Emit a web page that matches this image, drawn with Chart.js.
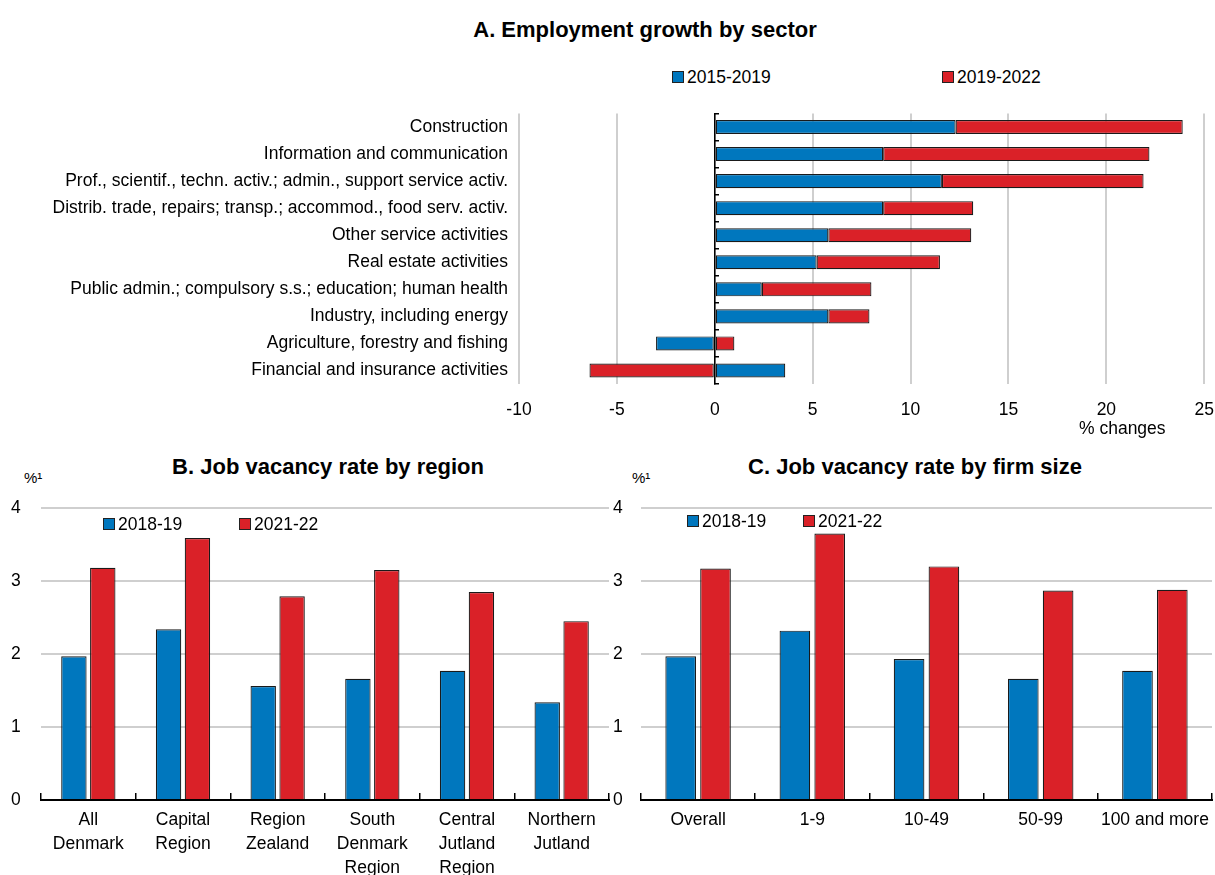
<!DOCTYPE html>
<html>
<head>
<meta charset="utf-8">
<script src="https://cdn.jsdelivr.net/npm/chart.js@4.4.1/dist/chart.umd.min.js"></script>
<style>
  html, body { margin: 0; padding: 0; background: #fff; }
  body { width: 1215px; height: 875px; position: relative; overflow: hidden;
         font-family: 'Liberation Sans', Arial, sans-serif; color: #000; }
  .abs { position: absolute; white-space: nowrap; z-index: 2; }
  .title { font-weight: bold; font-size: 22px; line-height: 26px; transform: translateX(-50%); }
  .leg { font-size: 17.5px; line-height: 20px; display: flex; align-items: center; }
  .box { display: inline-block; width: 10px; height: 10px; border: 1px solid #222; margin-right: 3px; }
  .unit { font-size: 15px; }
  .wrap { position: absolute; z-index: 1; }
</style>
</head>
<body>
<div class="wrap" style="left:0; top:100px; width:1215px; height:330px;"><canvas id="chartA"></canvas></div>
<div class="wrap" style="left:0; top:490px; width:612px; height:385px;"><canvas id="chartB"></canvas></div>
<div class="wrap" style="left:605px; top:490px; width:610px; height:385px;"><canvas id="chartC"></canvas></div>

<!-- Panel A -->
<div class="abs title" style="left:645px; top:17px;">A. Employment growth by sector</div>
<div class="abs leg" style="left:672px; top:67px;"><span class="box" style="background:#0077BE"></span>2015-2019</div>
<div class="abs leg" style="left:942px; top:67px;"><span class="box" style="background:#DA2128"></span>2019-2022</div>
<div class="abs" style="left:1079px; top:418px; font-size:17.5px;">% changes</div>

<!-- Panel B -->
<div class="abs title" style="left:328px; top:454px;">B. Job vacancy rate by region</div>
<div class="abs unit" style="left:24px; top:469px;">%¹</div>
<div class="abs leg" style="left:103px; top:514px;"><span class="box" style="background:#0077BE"></span>2018-19</div>
<div class="abs leg" style="left:239px; top:514px;"><span class="box" style="background:#DA2128"></span>2021-22</div>

<!-- Panel C -->
<div class="abs title" style="left:915px; top:454px;">C. Job vacancy rate by firm size</div>
<div class="abs unit" style="left:632px; top:469px;">%¹</div>
<div class="abs leg" style="left:687px; top:511px;"><span class="box" style="background:#0077BE"></span>2018-19</div>
<div class="abs leg" style="left:803px; top:511px;"><span class="box" style="background:#DA2128"></span>2021-22</div>

<script>
// ---------- Data ----------
const sectors = [
  "Construction",
  "Information and communication",
  "Prof., scientif., techn. activ.; admin., support service activ.",
  "Distrib. trade, repairs; transp.; accommod., food serv. activ.",
  "Other service activities",
  "Real estate activities",
  "Public admin.; compulsory s.s.; education; human health",
  "Industry, including energy",
  "Agriculture, forestry and fishing",
  "Financial and insurance activities"
];
const growth2015_2019 = [12.3, 8.6, 11.6, 8.6, 5.8, 5.2, 2.4, 5.8, -3.0, 3.6];
const growth2019_2022 = [11.6, 13.6, 10.3, 4.6, 7.3, 6.3, 5.6, 2.1, 1.0, -6.4];

const regions = [
  ["All", "Denmark"],
  ["Capital", "Region"],
  ["Region", "Zealand"],
  ["South", "Denmark", "Region"],
  ["Central", "Jutland", "Region"],
  ["Northern", "Jutland"]
];
const vacRegion2018_19 = [1.97, 2.34, 1.56, 1.66, 1.77, 1.34];
const vacRegion2021_22 = [3.18, 3.59, 2.79, 3.15, 2.85, 2.45];

const firmSizes = ["Overall", "1-9", "10-49", "50-99", "100 and more"];
const vacFirm2018_19 = [1.97, 2.32, 1.93, 1.66, 1.77];
const vacFirm2021_22 = [3.17, 3.65, 3.20, 2.87, 2.88];

const xTicksA = [-10, -5, 0, 5, 10, 15, 20, 25];
const yTicksBC = [0, 1, 2, 3, 4];

// ---------- Styles ----------
const BLUE = '#0077BE';
const RED = '#DA2128';
const EDGE = '#1a1a1a';
const GRID = '#cfcfcf';
const FONT = "'Liberation Sans', Arial, sans-serif";
const CLEAR = 'rgba(0,0,0,0)';

Chart.defaults.font.family = FONT;
Chart.defaults.color = '#000';
Chart.defaults.animation = false;
Chart.defaults.responsive = true;
Chart.defaults.maintainAspectRatio = false;
Chart.defaults.plugins.legend.display = false;
Chart.defaults.plugins.tooltip.enabled = false;

// ---------- Panel A ----------
new Chart(document.getElementById('chartA'), {
  type: 'bar',
  data: {
    labels: sectors,
    datasets: [
      { label: '2015-2019', data: growth2015_2019, backgroundColor: BLUE, borderColor: EDGE, borderWidth: 1.2, borderSkipped: false },
      { label: '2019-2022', data: growth2019_2022, backgroundColor: RED, borderColor: EDGE, borderWidth: 1.2, borderSkipped: false }
    ]
  },
  options: {
    indexAxis: 'y',
    layout: { padding: { top: 13, right: 0, left: 0, bottom: 0 } },
    datasets: { bar: { barPercentage: 0.52, categoryPercentage: 1.0 } },
    scales: {
      x: {
        type: 'linear', stacked: true, min: -10, max: 25,
        afterBuildTicks: (s) => { s.ticks = xTicksA.map(v => ({ value: v })); },
        grid: { color: GRID, lineWidth: 2, drawTicks: true, tickLength: 15, tickColor: CLEAR },
        border: { display: false },
        ticks: { font: { size: 17.5 }, padding: 1 },
        afterFit: (s) => { s.height = 46; }
      },
      y: {
        type: 'category', stacked: true,
        grid: { display: false },
        border: { display: false },
        ticks: { font: { size: 17.5 }, padding: 3, autoSkip: false },
        afterFit: (s) => { s.width = 519; }
      },
      y2: {
        type: 'category', axis: 'y', position: { x: 0 }, offset: true,
        grid: { offset: true, drawOnChartArea: false, drawTicks: true, tickLength: -5, color: '#000', lineWidth: 1.5 },
        border: { display: true, color: '#000', width: 1.5 },
        ticks: { display: false }
      }
    }
  }
});

// ---------- Panels B and C ----------
function vacancyChart(id, labels, d1, d2, padLeft, yWidth) {
  return new Chart(document.getElementById(id), {
    type: 'bar',
    data: {
      labels: labels,
      datasets: [
        { label: '2018-19', data: d1, backgroundColor: BLUE, borderColor: EDGE, borderWidth: 1.2, borderSkipped: 'bottom' },
        { label: '2021-22', data: d2, backgroundColor: RED, borderColor: EDGE, borderWidth: 1.2, borderSkipped: 'bottom' }
      ]
    },
    options: {
      layout: { padding: { top: 18, right: 3, left: padLeft, bottom: 0 } },
      datasets: { bar: { categoryPercentage: 0.61, barPercentage: 0.88 } },
      scales: {
        x: {
          grid: { offset: true, drawOnChartArea: false, drawTicks: true, tickLength: 8, tickColor: CLEAR },
          border: { display: true, color: '#000', width: 2 },
          ticks: { font: { size: 17.5, lineHeight: 1.38 }, padding: 0, autoSkip: false, maxRotation: 0 },
          afterFit: (s) => { s.height = 75; }
        },
        x2: {
          type: 'category', axis: 'x', position: { y: 0 }, offset: true,
          grid: { offset: true, drawOnChartArea: false, drawTicks: true, tickLength: -7, color: '#000', lineWidth: 1.5 },
          border: { display: false },
          ticks: { display: false }
        },
        y: {
          min: 0, max: 4,
          afterBuildTicks: (s) => { s.ticks = yTicksBC.map(v => ({ value: v })); },
          grid: { color: GRID, lineWidth: 2, drawTicks: false },
          border: { display: false },
          ticks: { font: { size: 17.5 }, padding: 0, crossAlign: 'far' },
          afterFit: (s) => { s.width = yWidth; }
        }
      }
    }
  });
}
vacancyChart('chartB', regions, vacRegion2018_19, vacRegion2021_22, 11, 30);
vacancyChart('chartC', firmSizes, vacFirm2018_19, vacFirm2021_22, 8, 28);
</script>
</body>
</html>
